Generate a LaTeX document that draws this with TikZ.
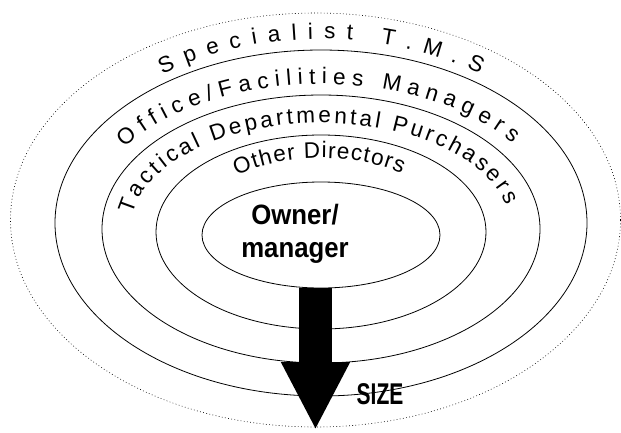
\documentclass[tikz,border=0pt]{standalone}
\usepackage{fontspec}
\setmainfont{Liberation Sans}
\newfontfamily\ownerfont{Liberation Sans}[FakeStretch=0.92]
\newfontfamily\sizefont{Liberation Sans}[FakeStretch=0.7]
\usetikzlibrary{shapes.geometric, decorations.text, arrows.meta}

\newcommand{\ringfont}{\fontsize{22.5}{26}\selectfont}

\begin{document}
\begin{tikzpicture}[x=1pt, y=1pt, thin]
            \tikzset{ring/.style={draw, ellipse, inner sep=0pt, line width=0.8pt},
                     arc text/.style={decorate, decoration={text along path, text align=fit to path, text={|\ringfont|#1}}}}
            \useasboundingbox (0,0) rectangle (621,-432);
            % rings, outermost first
            \node[ring, dash pattern=on 0.8pt off 2.4pt, line width=0.6pt, minimum width=610pt, minimum height=414pt] (specialist) at (315.5,-220) {};
            \node[ring, minimum width=532pt, minimum height=346pt] (office) at (321,-223) {};
            \node[ring, minimum width=438pt, minimum height=268pt] (tactical) at (321,-229) {};
            \node[ring, minimum width=330pt, minimum height=194pt] (directors) at (321,-232) {};
            \node[ring, minimum width=238pt, minimum height=106pt] (owner) at (321,-235) {};
            % curved labels
            \path[arc text={Specialist T.M.S}] (office.center) ++(126:270 and 184) arc[start angle=126, end angle=54, x radius=270pt, y radius=184pt];
            \path[arc text={Office/Facilities Managers}] (office.center) ++(147:234 and 139) arc[start angle=147, end angle=35, x radius=234pt, y radius=139pt];
            \path[arc text={Tactical Departmental Purchasers}] (tactical.center) ++(172:190 and 106) arc[start angle=172, end angle=13, x radius=190pt, y radius=106pt];
            \path[arc text={Other Directors}] (directors.center) ++(130:131 and 74) arc[start angle=130, end angle=52, x radius=131pt, y radius=74pt];
            \node[font=\ownerfont\bfseries\fontsize{28}{33}\selectfont, align=center, inner sep=0pt] (ownertext) at (295,-234) {Owner/\\manager};
            % size arrow
            \coordinate (tip) at (315.5,-430);
            \draw[line width=33pt, -{Triangle[length=68pt, width=64pt]}] (tip |- owner.south) -- (tip);
            \node[font=\sizefont\bfseries\fontsize{30}{30}\selectfont, inner sep=0pt] (size) at (380,-394) {SIZE};
        \end{tikzpicture}
\end{document}
